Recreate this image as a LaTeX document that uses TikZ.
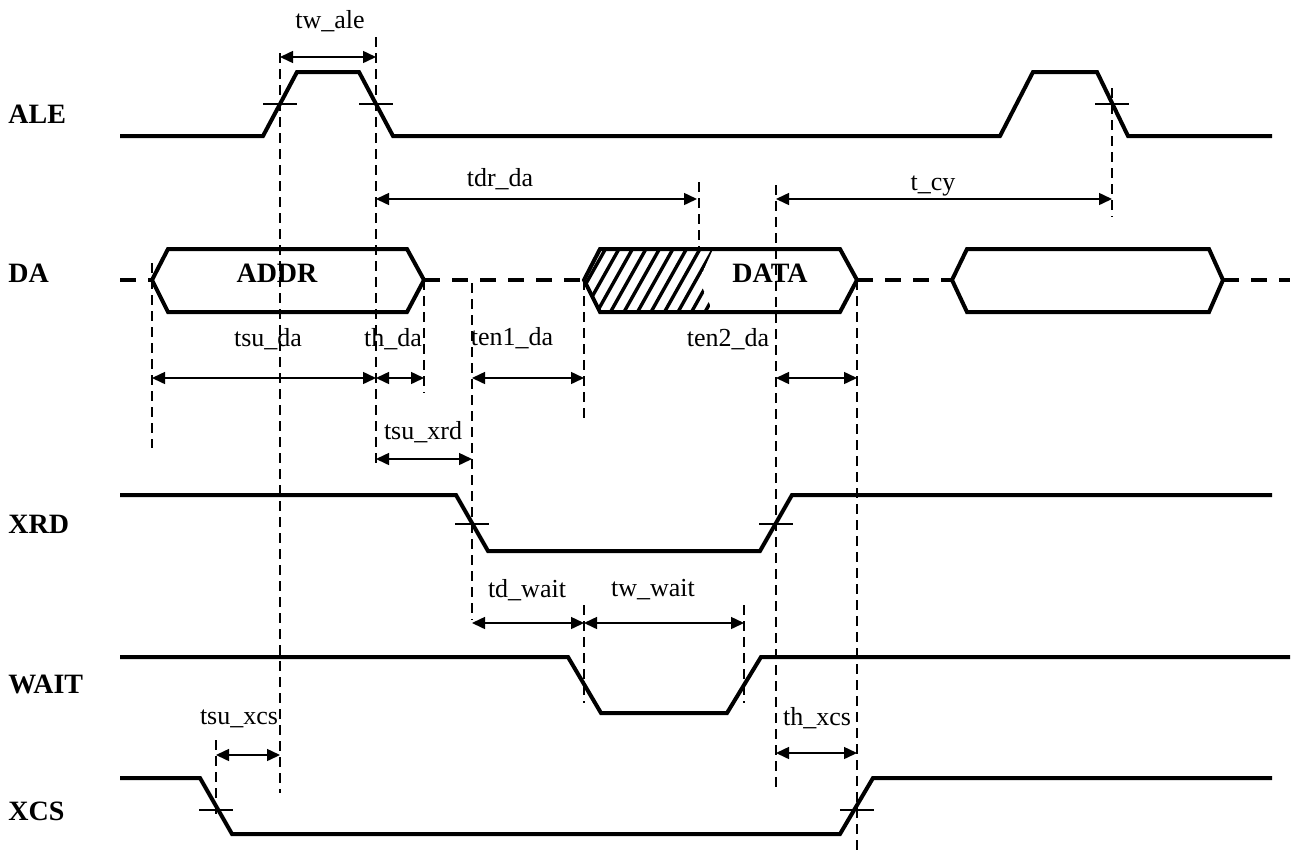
\documentclass[tikz,border=0pt]{standalone}
\usepackage{fontspec}
\setmainfont{Liberation Serif}
\usetikzlibrary{arrows.meta}
\begin{document}
\begin{tikzpicture}[x=0.5pt,y=-0.5pt,
  sig/.style={line width=2pt, line join=miter},
  bus/.style={line width=2pt, dash pattern=on 8pt off 6pt},
  guide/.style={line width=0.65pt, dash pattern=on 5pt off 3pt},
  tickmark/.style={line width=0.6pt},
  dim/.style={line width=0.75pt, >={Triangle[length=6.5pt,width=6pt]}, <->},
  lbl/.style={font=\fontsize{13}{15}\selectfont, anchor=base, inner sep=0pt},
  sname/.style={font=\fontsize{14}{16}\selectfont\bfseries, anchor=base west, inner sep=0pt},
  bname/.style={font=\fontsize{14}{16}\selectfont\bfseries, anchor=base, inner sep=0pt},
]
\useasboundingbox (0,0) rectangle (1292,852);

% signal names
\node[sname] (nALE)  at (8,123) {ALE};
\node[sname] (nDA)   at (8,282) {DA};
\node[sname] (nXRD)  at (8,533) {XRD};
\node[sname] (nWAIT) at (8,693) {WAIT};
\node[sname] (nXCS)  at (8,820) {XCS};

% guide lines (dashed verticals)
\draw[guide] (280,53) -- (280,793);
\draw[guide] (376,37) -- (376,468);
\draw[guide] (152,263) -- (152,448);
\draw[guide] (424,280) -- (424,393);
\draw[guide] (472,283) -- (472,620);
\draw[guide] (584,280) -- (584,423);
\draw[guide] (699,182) -- (699,250);
\draw[guide] (776,185) -- (776,792);
\draw[guide] (857,280) -- (857,850);
\draw[guide] (1112,88) -- (1112,217);
\draw[guide] (584,605) -- (584,703);
\draw[guide] (744,605) -- (744,703);
\draw[guide] (216,740) -- (216,818);

% ALE
\draw[sig] (120,136) -- (263,136) -- (297,72) -- (359,72) -- (393,136) -- (1000,136)
  -- (1033,72) -- (1097,72) -- (1128,136) -- (1272,136);

% DA bus
\draw[bus] (120,280) -- (152,280);
\draw[bus] (424,280) -- (584,280);
\draw[bus] (857,280) -- (952,280);
\draw[bus] (1223,280) -- (1290,280);
\draw[sig] (152,280) -- (168,249) -- (407,249) -- (424,280) -- (407,312) -- (168,312) -- cycle;
\begin{scope}
  \clip (584,280) -- (600,249) -- (713,249) -- (699,280) -- (713,312) -- (600,312) -- cycle;
  \foreach \k in {0,...,15} \draw[line width=1.7pt] (525+\k*13.5,320) -- ++(45,-80);
\end{scope}
\draw[sig] (584,280) -- (600,249) -- (840,249) -- (857,280) -- (840,312) -- (600,312) -- cycle;
\draw[sig] (952,280) -- (967,249) -- (1209,249) -- (1223,280) -- (1209,312) -- (967,312) -- cycle;
\node[bname] (addr) at (277,282) {ADDR};
\node[bname] (data) at (770,282) {DATA};

% XRD
\draw[sig] (120,495) -- (456,495) -- (488,551) -- (760,551) -- (792,495) -- (1272,495);
% WAIT
\draw[sig] (120,657) -- (568,657) -- (601,713) -- (727,713) -- (761,657) -- (1290,657);
% XCS
\draw[sig] (120,778) -- (200,778) -- (232,834) -- (840,834) -- (873,778) -- (1272,778);

% tick marks
\foreach \x/\y in {280/104, 376/104, 1112/104, 472/524, 776/524, 216/810, 857/810}
  \draw[tickmark] (\x-17,\y) -- (\x+17,\y);

% dimension arrows
\draw[dim] (280,57) -- (376,57);
\draw[dim] (376,199) -- (697,199);
\draw[dim] (776,199) -- (1112,199);
\draw[dim] (152,378) -- (376,378);
\draw[dim] (376,378) -- (424,378);
\draw[dim] (472,378) -- (584,378);
\draw[dim] (776,378) -- (857,378);
\draw[dim] (376,459) -- (472,459);
\draw[dim] (472,623) -- (584,623);
\draw[dim] (584,623) -- (744,623);
\draw[dim] (216,755) -- (280,755);
\draw[dim] (776,753) -- (857,753);

% labels
\node[lbl] (ltwale)  at (330,28)  {tw\_ale};
\node[lbl] (ltdrda)  at (500,186) {tdr\_da};
\node[lbl] (ltcy)    at (933,190) {t\_cy};
\node[lbl] (ltsuda)  at (268,346) {tsu\_da};
\node[lbl] (lthda)   at (393,346) {th\_da};
\node[lbl] (lten1)   at (512,345) {ten1\_da};
\node[lbl] (lten2)   at (728,346) {ten2\_da};
\node[lbl] (ltsuxrd) at (423,439) {tsu\_xrd};
\node[lbl] (ltdwait) at (527,597) {td\_wait};
\node[lbl] (ltwwait) at (653,596) {tw\_wait};
\node[lbl] (ltsuxcs) at (239,724) {tsu\_xcs};
\node[lbl] (lthxcs)  at (817,725) {th\_xcs};
\end{tikzpicture}
\end{document}
